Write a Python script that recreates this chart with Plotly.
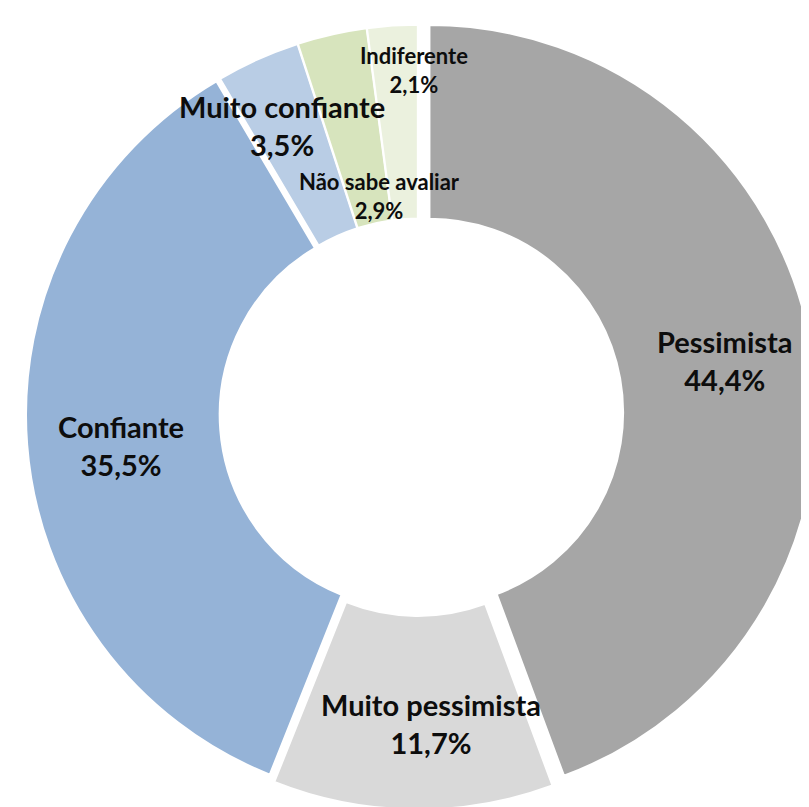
import math
import plotly.graph_objects as go

labels = ["Pessimista", "Muito pessimista", "Confiante", "Muito confiante", "Não sabe avaliar", "Indiferente"]
values = [44.4, 11.7, 35.5, 3.5, 2.9, 2.1]
value_text = ["44,4%", "11,7%", "35,5%", "3,5%", "2,9%", "2,1%"]
colors = ["#A6A6A6", "#D9D9D9", "#95B3D7", "#B9CDE5", "#D7E4BD", "#EBF1DE"]

W, H = 809, 807
pulls = [0.03, 0.02, 0.012, 0.006, 0.006, 0.006]
dom_x = [0.0136, 1.0]
dom_y = [0.0019, 0.9907]

fig = go.Figure(go.Pie(
    labels=labels, values=values, sort=False, direction="clockwise", rotation=0,
    hole=0.5, pull=pulls, textinfo="none", hoverinfo="label+percent",
    marker=dict(colors=colors, line=dict(color="white", width=2)),
    domain=dict(x=dom_x, y=dom_y), showlegend=False,
))

# pie geometry in pixels
cx = (dom_x[0] + dom_x[1]) / 2 * W
cy = (1 - (dom_y[0] + dom_y[1]) / 2) * H
half = min((dom_x[1] - dom_x[0]) * W, (dom_y[1] - dom_y[0]) * H) / 2
R = half / (1 + max(pulls))

# label placement: radius factor, extra px offset, font size
place = {
    "Pessimista": (0.814, -3, 2, 29),
    "Muito pessimista": (0.791, 17, 3, 29),
    "Confiante": (0.768, 0, 8, 29),
    "Muito confiante": (0.818, -6, 0, 29),
    "Não sabe avaliar": (0.573, 11, -2, 22),
    "Indiferente": (0.885, 19, -2, 22),
}

total = sum(values)
cum = 0
for lab, v, vt in zip(labels, values, value_text):
    mid = (cum + v / 2) / total * 2 * math.pi
    cum += v
    rf, ox, oy, fs = place[lab]
    px = cx + rf * R * math.sin(mid) + ox
    py = cy - rf * R * math.cos(mid) + oy
    fig.add_annotation(
        x=px / W, y=1 - py / H, xref="paper", yref="paper", showarrow=False,
        xanchor="center", yanchor="middle",
        text=f"{lab}<br>{vt}", align="center",
        font=dict(family="Lato", size=fs, color="#0d0d0d", weight="bold"),
    )

fig.update_layout(
    width=W, height=H, margin=dict(l=0, r=0, t=0, b=0),
    paper_bgcolor="white", plot_bgcolor="white",
)
fig.write_html("out.html")
